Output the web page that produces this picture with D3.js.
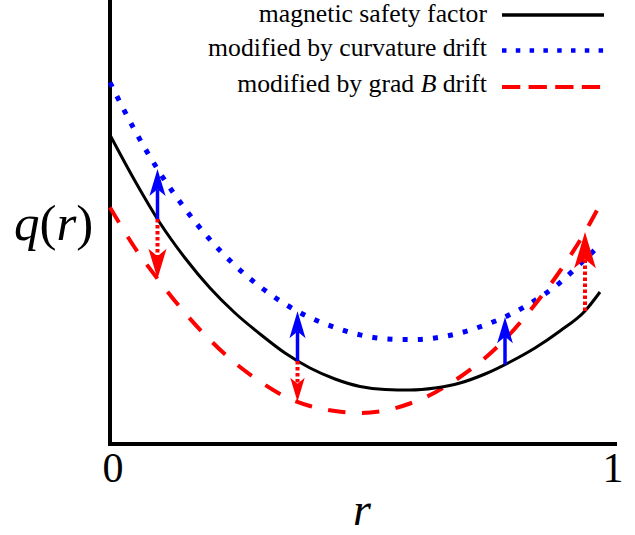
<!DOCTYPE html>
<html>
<head>
<meta charset="utf-8">
<script src="https://cdn.jsdelivr.net/npm/d3@7"></script>
<style>
  html, body { margin: 0; padding: 0; background: #fff; }
  svg { display: block; }
</style>
</head>
<body>
<svg id="chart" width="635" height="535"></svg>
<script>
// Normalised radius samples shared by the three profiles
const radius = [0, 0.05, 0.10, 0.15, 0.20, 0.25, 0.30, 0.35, 0.40, 0.45, 0.50,
                0.55, 0.60, 0.65, 0.70, 0.75, 0.80, 0.85, 0.90, 0.95, 0.98];

// Magnetic safety factor q(r) (reversed-shear profile)
const qMagnetic = [3.08, 2.62, 2.20, 1.85, 1.55, 1.30, 1.09, 0.90, 0.75, 0.64, 0.565,
                   0.535, 0.53, 0.55, 0.60, 0.69, 0.81, 0.95, 1.12, 1.32, 1.51];

// Effective q modified by the curvature drift
const qCurvature = [3.605, 3.123, 2.70, 2.343, 2.033, 1.776, 1.564, 1.39, 1.254, 1.156, 1.081,
                    1.042, 1.034, 1.051, 1.10, 1.18, 1.284, 1.426, 1.604, 1.838, 1.98];

// Effective q modified by the grad-B drift
const qGradB = [2.355, 1.95, 1.61, 1.30, 1.03, 0.80, 0.615, 0.465, 0.37, 0.32, 0.30,
                0.325, 0.395, 0.505, 0.66, 0.85, 1.09, 1.385, 1.72, 2.11, 2.385];

// Radii where the shift from q(r) is indicated with arrows
const curvatureArrowR = [0.095, 0.375, 0.79];
const gradBArrowR = [0.095, 0.375, 0.95];

const xTickValues = [0, 1];
const legendLabels = ["magnetic safety factor", "modified by curvature drift", "modified by grad B drift"];

const SERIF = "'Liberation Serif', 'Times New Roman', serif";
const svg = d3.select("#chart").style("font-family", SERIF);

const x = d3.scaleLinear().domain([0, 1]).range([110, 610]);
const y = d3.scaleLinear().domain([0, 4.43]).range([443, 0]);

const BLUE = "#0000ff", RED = "#ff0000";

// Axes drawn as an open L frame
svg.append("path")
  .attr("d", `M${x(0)},0 L${x(0)},444 L617,444`)
  .attr("fill", "none")
  .attr("stroke", "#000")
  .attr("stroke-width", 4)
  .attr("stroke-linejoin", "miter");

// Tick labels (0 and 1) from the axis generator
const xAxis = svg.append("g")
  .attr("transform", "translate(0,444)")
  .call(d3.axisBottom(x).tickValues(xTickValues).tickSize(0).tickPadding(0)
    .tickFormat(d3.format("d")));
xAxis.attr("font-family", null).attr("font-size", null);
xAxis.select(".domain").remove();
xAxis.selectAll("text")
  .attr("dy", null)
  .attr("y", 38)
  .attr("dx", 2.5)
  .style("font-family", SERIF)
  .style("font-size", "42px")
  .attr("fill", "#000");

// Axis titles
svg.append("text")
  .attr("x", 362).attr("y", 525)
  .attr("text-anchor", "middle")
  .style("font-family", SERIF)
  .style("font-size", "46px")
  .style("font-style", "italic")
  .text("r");

const yTitle = svg.append("text")
  .attr("x", 14).attr("y", 240)
  .style("font-family", SERIF)
  .style("font-size", "51px");
yTitle.append("tspan").style("font-style", "italic").text("q");
yTitle.append("tspan").text("(");
yTitle.append("tspan").style("font-style", "italic").text("r");
yTitle.append("tspan").text(")");

// Profile curves
const line = d3.line()
  .x((d, i) => x(radius[i]))
  .y(d => y(d))
  .curve(d3.curveMonotoneX);

const curvaturePath = svg.append("path")
  .datum(qCurvature)
  .attr("d", line)
  .attr("fill", "none")
  .attr("stroke", BLUE)
  .attr("stroke-width", 5)
  .attr("stroke-dasharray", "5 10.2");

const gradBPath = svg.append("path")
  .datum(qGradB)
  .attr("d", line)
  .attr("fill", "none")
  .attr("stroke", RED)
  .attr("stroke-width", 4)
  .attr("stroke-dasharray", "17.5 16.5");

const magneticPath = svg.append("path")
  .datum(qMagnetic)
  .attr("d", line)
  .attr("fill", "none")
  .attr("stroke", "#000")
  .attr("stroke-width", 3);

// Screen y of a rendered curve at screen x (paths are monotone in x)
function yOnPath(node, px) {
  let lo = 0, hi = node.getTotalLength();
  for (let k = 0; k < 40; k++) {
    const mid = (lo + hi) / 2;
    if (node.getPointAtLength(mid).x < px) lo = mid; else hi = mid;
  }
  return node.getPointAtLength((lo + hi) / 2).y;
}

// Vertical arrow from the magnetic q curve to a modified curve
function drawArrow(rv, targetNode, color, dashed) {
  const px = x(rv);
  const y0 = yOnPath(magneticPath.node(), px);
  const y1 = yOnPath(targetNode, px);
  const dir = Math.sign(y1 - y0);
  const len = Math.abs(y1 - y0);
  const head = 0.32 * len + 11;
  const half = 0.3 * head;
  const notch = 0.75 * head;
  const g = svg.append("g");
  g.append("line")
    .attr("x1", px).attr("x2", px)
    .attr("y1", y0).attr("y2", y1 - dir * notch)
    .attr("stroke", color)
    .attr("stroke-width", dashed ? 4 : 3.5)
    .attr("stroke-dasharray", dashed ? "3.5 2.5" : null);
  g.append("path")
    .attr("d", `M${px},${y1} L${px - half},${y1 - dir * head} L${px},${y1 - dir * notch} L${px + half},${y1 - dir * head} Z`)
    .attr("fill", color);
}

curvatureArrowR.forEach(rv => drawArrow(rv, curvaturePath.node(), BLUE, false));
gradBArrowR.forEach(rv => drawArrow(rv, gradBPath.node(), RED, true));

// Legend
const legendStyles = [
  { color: "#000", width: 3.5, dash: null },
  { color: BLUE, width: 4.5, dash: "4.5 9.3" },
  { color: RED, width: 4, dash: "18.3 8.3" }
];
const legendLineY = [15, 50.5, 87];
const legendTextY = [22, 56, 92];
const legend = svg.append("g");
legendLabels.forEach((label, i) => {
  const t = legend.append("text")
    .attr("x", 487).attr("y", legendTextY[i])
    .attr("text-anchor", "end")
    .style("font-family", SERIF)
    .style("font-size", "25.7px");
  if (label.includes(" B ")) {
    const parts = label.split(" B ");
    t.append("tspan").text(parts[0] + " ");
    t.append("tspan").style("font-style", "italic").text("B");
    t.append("tspan").text(" " + parts[1]);
  } else {
    t.text(label);
  }
  legend.append("line")
    .attr("x1", 502).attr("x2", 604)
    .attr("y1", legendLineY[i]).attr("y2", legendLineY[i])
    .attr("stroke", legendStyles[i].color)
    .attr("stroke-width", legendStyles[i].width)
    .attr("stroke-dasharray", legendStyles[i].dash);
});
</script>
</body>
</html>
